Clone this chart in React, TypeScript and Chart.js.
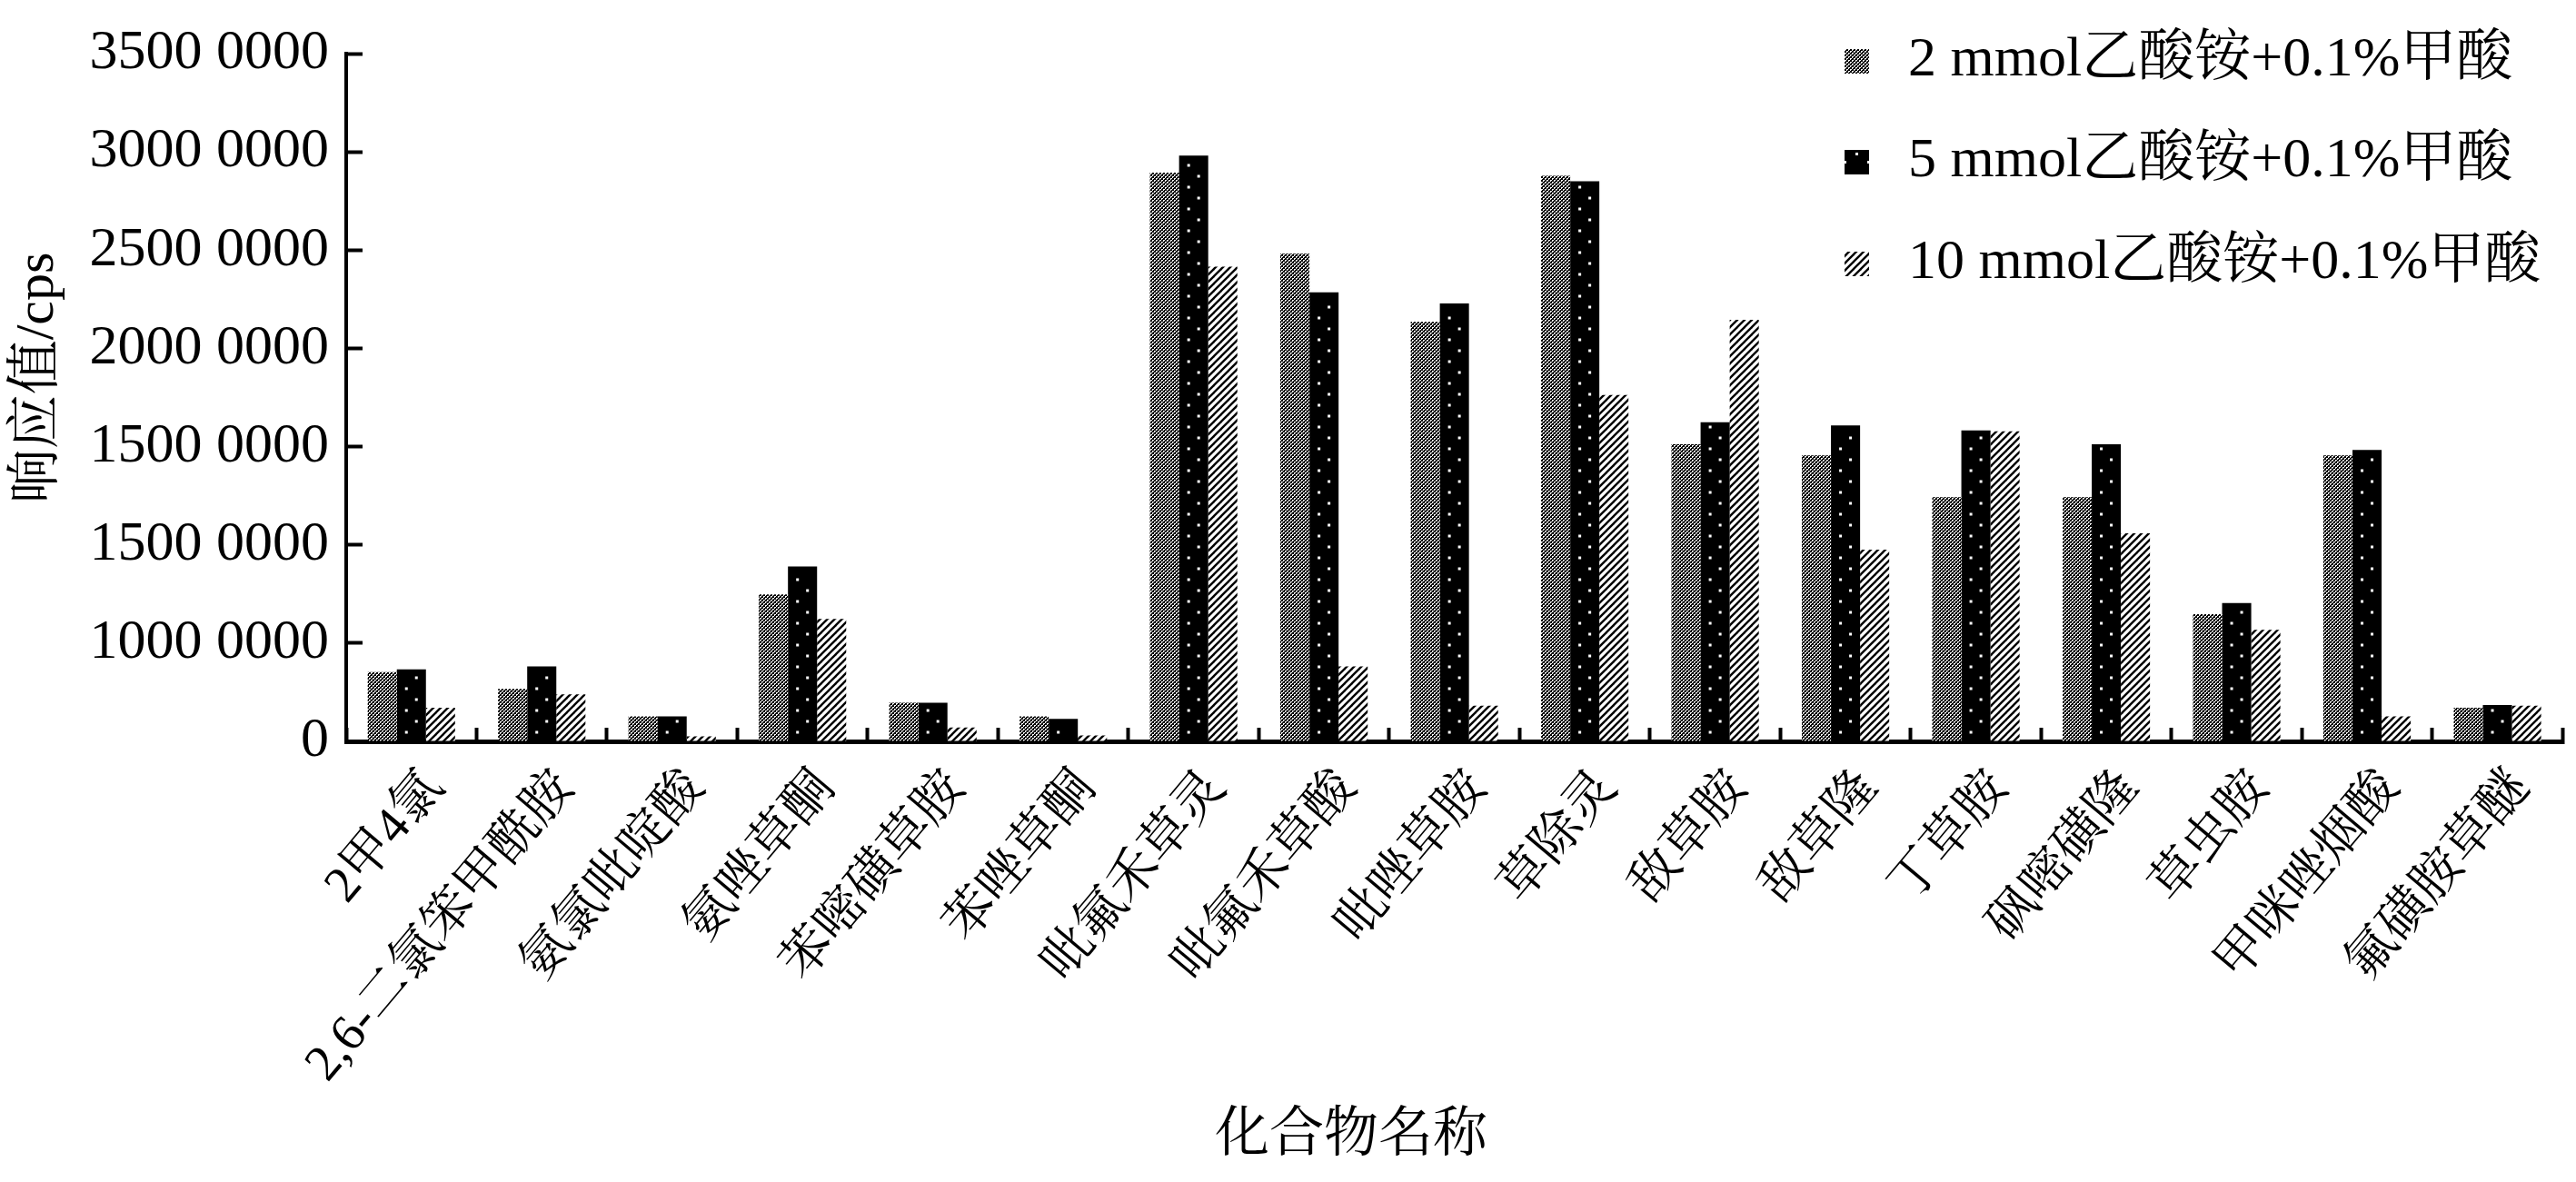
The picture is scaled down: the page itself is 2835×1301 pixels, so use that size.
import React, { useEffect, useRef } from 'react';
import { Chart, registerables } from 'chart.js';

Chart.register(...registerables);

const categories = [
  '2甲4氯', '2,6-二氯笨甲酰胺', '氨氯吡啶酸', '氨唑草酮', '苯嘧磺草胺', '苯唑草酮',
  '吡氟禾草灵', '吡氟禾草酸', '吡唑草胺', '草除灵', '敌草胺', '敌草隆', '丁草胺',
  '砜嘧磺隆', '草虫胺', '甲咪唑烟酸', '氟磺胺草醚',
];
const seriesNames = ['2 mmol乙酸铵+0.1%甲酸', '5 mmol乙酸铵+0.1%甲酸', '10 mmol乙酸铵+0.1%甲酸'];
const values2mmol = [352, 267, 127, 748, 197, 127, 2894, 2482, 2135, 2878, 1512, 1455, 1242, 1242, 647, 1455, 171];
const values5mmol = [366, 382, 127, 890, 197, 115, 2981, 2285, 2229, 2850, 1624, 1608, 1582, 1512, 704, 1483, 185];
const values10mmol = [171, 239, 26, 623, 70, 30, 2416, 382, 181, 1763, 2145, 975, 1578, 1059, 567, 127, 181];
const yTickValues = [0, 500, 1000, 1500, 2000, 2500, 3000, 3500];
const yTickLabels = ['0', '1000 0000', '1500 0000', '1500 0000', '2000 0000', '2500 0000', '3000 0000', '3500 0000'];
const yTitle = '响应值/cps';
const xTitle = '化合物名称';

const FONT = '"Liberation Serif", "Noto Serif CJK SC", "Noto Sans CJK SC", serif';

function makeChecker(): CanvasPattern | string {
  const c = document.createElement('canvas');
  c.width = 4; c.height = 4;
  const g = c.getContext('2d');
  if (!g) return '#333';
  g.fillStyle = '#000';
  g.fillRect(0, 0, 4, 4);
  g.fillStyle = '#fff';
  g.fillRect(0, 0, 2, 1);
  g.fillRect(0, 1, 1, 1);
  g.fillRect(2, 2, 2, 1);
  g.fillRect(2, 3, 1, 1);
  const p = g.createPattern(c, 'repeat');
  return p || '#333';
}

function makeHatch(): CanvasPattern | string {
  const s = 8;
  const c = document.createElement('canvas');
  c.width = s; c.height = s;
  const g = c.getContext('2d');
  if (!g) return '#aaa';
  g.fillStyle = '#fff';
  g.fillRect(0, 0, s, s);
  g.strokeStyle = '#000';
  g.lineWidth = 2.4;
  for (const off of [-s, 0, s]) {
    g.beginPath();
    g.moveTo(off - 1, s + 1);
    g.lineTo(off + s + 1, -1);
    g.stroke();
  }
  const p = g.createPattern(c, 'repeat');
  return p || '#aaa';
}

function drawDots(ctx: CanvasRenderingContext2D, x: number, top: number, base: number) {
  ctx.save();
  ctx.fillStyle = '#fff';
  let k = 0;
  for (let yy = base - 10; yy > top + 4; yy -= 12) {
    const cx = k % 2 === 0 ? x - 6 : x + 5;
    ctx.fillRect(cx - 1, yy - 1, 3, 3);
    k++;
  }
  ctx.restore();
}

export default function App() {
  const ref = useRef<HTMLCanvasElement | null>(null);

  useEffect(() => {
    if (!ref.current) return;
    const checker = makeChecker();
    const hatch = makeHatch();
    const fills = [checker, '#000', hatch];

    const dotsPlugin = {
      id: 'dots',
      afterDatasetsDraw(chart: any) {
        const meta = chart.getDatasetMeta(1);
        const ctx = chart.ctx;
        meta.data.forEach((bar: any) => {
          drawDots(ctx, bar.x, bar.y, bar.base);
        });
      },
    };

    const legendPlugin = {
      id: 'customLegend',
      afterDraw(chart: any) {
        const ctx: CanvasRenderingContext2D = chart.ctx;
        const rows = [67, 178, 290];
        ctx.save();
        rows.forEach((cy, i) => {
          ctx.fillStyle = fills[i] as any;
          ctx.fillRect(2030, cy - 13, 27, 27);
          if (i === 1) {
            ctx.fillStyle = '#fff';
            ctx.fillRect(2042, cy - 10, 3, 3);
            ctx.fillRect(2030, cy - 1, 2, 3);
            ctx.fillRect(2055, cy - 1, 2, 3);
          }
          ctx.fillStyle = '#000';
          ctx.font = `62px ${FONT}`;
          ctx.textAlign = 'left';
          ctx.textBaseline = 'middle';
          ctx.fillText(chart.data.datasets[i].label, 2100, cy);
        });
        ctx.font = `60px ${FONT}`;
        ctx.textAlign = 'center';
        ctx.textBaseline = 'middle';
        ctx.fillText(xTitle, 1487, 1251);
        ctx.translate(42, 416);
        ctx.rotate(-Math.PI / 2);
        ctx.fillText(yTitle, 0, 0);
        ctx.restore();
      },
    };

    const chart = new Chart(ref.current, {
      type: 'bar',
      data: {
        labels: categories,
        datasets: [
          { label: seriesNames[0], data: values2mmol, backgroundColor: checker as any, borderWidth: 0 },
          { label: seriesNames[1], data: values5mmol, backgroundColor: '#000', borderWidth: 0 },
          { label: seriesNames[2], data: values10mmol, backgroundColor: hatch as any, borderWidth: 0 },
        ],
      },
      options: {
        animation: false,
        responsive: false,
        devicePixelRatio: 1,
        layout: { padding: { top: 59, right: 0, bottom: 0, left: 0 } },
        datasets: { bar: { categoryPercentage: 0.67, barPercentage: 1.0 } },
        plugins: {
          legend: { display: false },
          tooltip: { enabled: false },
        },
        scales: {
          x: {
            type: 'category',
            offset: true,
            grid: {
              display: true,
              drawOnChartArea: false,
              drawTicks: true,
              tickLength: -15,
              tickWidth: 4,
              tickColor: '#000',
              offset: true,
            },
            border: { display: true, color: '#000', width: 5 },
            ticks: {
              autoSkip: false,
              maxRotation: 50,
              minRotation: 50,
              padding: 35,
              labelOffset: 26,
              color: '#000',
              font: { family: FONT, size: 56 },
            },
            afterFit: (s: any) => { s.height = 1301 - 816; },
          },
          y: {
            min: 0,
            max: 3500,
            ticks: {
              stepSize: 500,
              padding: 37,
              color: '#000',
              font: { family: FONT, size: 62 },
              callback: (v: any) => {
                const i = yTickValues.indexOf(Number(v));
                return i >= 0 ? yTickLabels[i] : '';
              },
            },
            grid: {
              display: true,
              drawOnChartArea: false,
              drawTicks: true,
              tickLength: -18,
              tickWidth: 4,
              tickColor: '#000',
            },
            border: { display: true, color: '#000', width: 4 },
            title: { display: false },
            afterFit: (s: any) => {
              s.width = 381;
              s.paddingTop = 0;
              s.paddingBottom = 0;
            },
          },
        },
      } as any,
      plugins: [dotsPlugin, legendPlugin],
    });
    return () => chart.destroy();
  }, []);

  return (
    <div style={{ position: 'absolute', left: 0, top: 0, width: 2835, height: 1301, background: '#fff' }}>
      <canvas ref={ref} width={2835} height={1301} style={{ width: 2835, height: 1301, display: 'block' }} />
    </div>
  );
}
